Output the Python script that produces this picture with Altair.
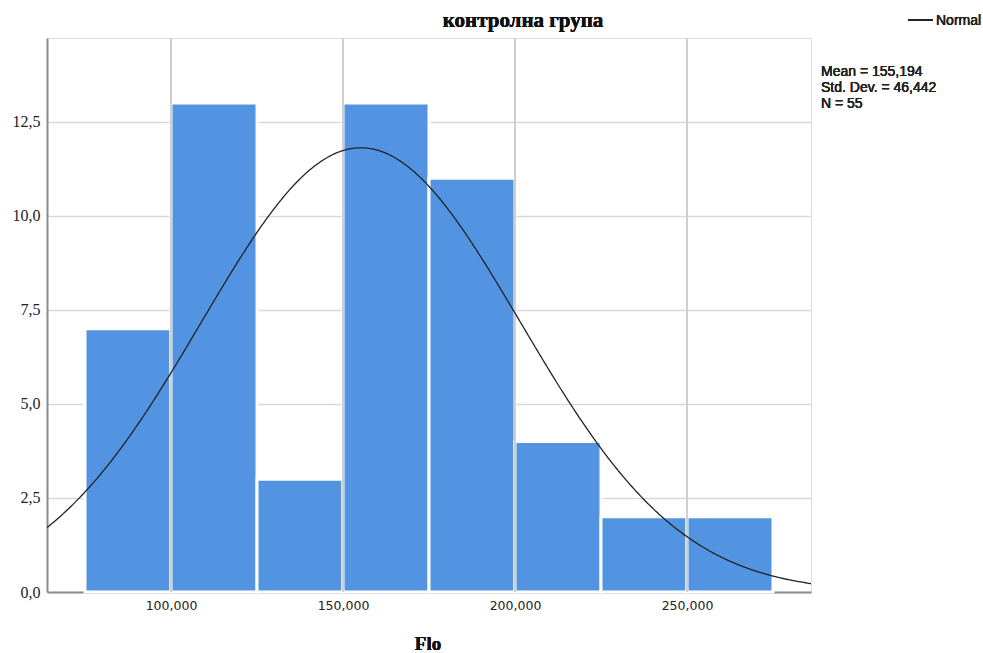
import altair as alt
import pandas as pd

# Histogram of Flo, control group (bin width 25)
bin_start = [75, 100, 125, 150, 175, 200, 225, 250]
bin_end = [100, 125, 150, 175, 200, 225, 250, 275]
counts = [7, 13, 3, 13, 11, 4, 2, 2]

# Summary statistics shown beside the chart
mean_val = 155.194
sd_val = 46.442
n_val = 55
bin_width = 25

x_ticks = [100, 150, 200, 250]
y_ticks = [0, 2.5, 5, 7.5, 10, 12.5]
x_domain = [63.95, 286.05]
y_domain = [0, 14.73]

stats_lines = ["Mean = 155,194", "Std. Dev. = 46,442", "N = 55"]

W, H = 764, 554

bars_df = pd.DataFrame({"start": bin_start, "end": bin_end, "count": counts})
grid_df = pd.DataFrame({"x": x_ticks})

x_scale = alt.Scale(domain=x_domain, nice=False, zero=False)
y_scale = alt.Scale(domain=y_domain, nice=False)

x_axis = alt.Axis(
    values=x_ticks, grid=False, ticks=False, domain=True,
    domainColor="#8c8c8c", domainWidth=2,
    labelExpr="replace(format(datum.value, '.3f'), '.', ',')",
    labelFont="DejaVu Sans", labelFontSize=12.5, labelColor="#222222",
    labelPadding=7, title=None,
)
y_axis = alt.Axis(
    values=y_ticks, grid=True, gridColor="#d9d9d9", gridWidth=1.5,
    ticks=False, domain=True, domainColor="#8c8c8c", domainWidth=2,
    labelExpr="replace(format(datum.value, '.1f'), '.', ',')",
    labelFont="Liberation Serif", labelFontSize=16, labelColor="#222222",
    labelPadding=7, title=None,
)

bars = alt.Chart(bars_df).mark_rect(
    color="#5294E2", stroke="white", strokeWidth=3
).encode(
    x=alt.X("start:Q", scale=x_scale, axis=x_axis),
    x2="end:Q",
    y=alt.Y("count:Q", scale=y_scale, axis=y_axis),
    y2=alt.datum(0),
)

vgrid = alt.Chart(grid_df).mark_rule(color="#cfcfcf", strokeWidth=2).encode(
    x=alt.X("x:Q", scale=x_scale),
    y=alt.value(0),
    y2=alt.value(H),
)

# Normal curve scaled to counts: N * bin width * density
curve = alt.Chart(alt.sequence(x_domain[0], x_domain[1] + 0.5, 0.5, as_="x")).transform_calculate(
    y=f"{n_val} * {bin_width} / ({sd_val} * sqrt(2 * PI)) * exp(-0.5 * pow((datum.x - {mean_val}) / {sd_val}, 2))"
).mark_line(color="#222222", strokeWidth=1.3, clip=True).encode(
    x=alt.X("x:Q", scale=x_scale),
    y=alt.Y("y:Q", scale=y_scale),
)

title = alt.Chart(grid_df).mark_text(
    text="контролна група", font="Liberation Serif", fontWeight="bold",
    fontSize=21, fill="#111111", align="center", baseline="alphabetic",
).encode(x=alt.value(476), y=alt.value(-11))

x_title = alt.Chart(grid_df).mark_text(
    text="Flo", font="Liberation Serif", fontWeight="bold",
    fontSize=19, fill="#111111", align="center", baseline="alphabetic",
).encode(x=alt.value(381), y=alt.value(612))

legend_line = alt.Chart(grid_df).mark_rule(color="#222222", strokeWidth=1.3).encode(
    x=alt.value(861), x2=alt.value(886), y=alt.value(-18)
)
legend_text = alt.Chart(grid_df).mark_text(
    text="Normal", font="Liberation Sans", fontWeight="normal", fontSize=14,
    fill="#222222", align="left", baseline="middle",
).encode(x=alt.value(889), y=alt.value(-17))

stats_text = alt.Chart(grid_df).mark_text(
    text=stats_lines, font="Liberation Sans", fontWeight="normal", fontSize=14,
    fill="#222222", align="left", baseline="middle", lineHeight=16,
).encode(x=alt.value(774), y=alt.value(34))

chart = alt.layer(
    bars, vgrid, curve, title, x_title, legend_line, legend_text, stats_text
).properties(
    width=W, height=H,
    autosize=alt.AutoSizeParams(type="none"),
    padding={"left": 47, "top": 38, "right": 172, "bottom": 61},
).configure_view(stroke=None).configure(background="white")

chart.save("out.html", embed_options={"renderer": "svg", "actions": False})
